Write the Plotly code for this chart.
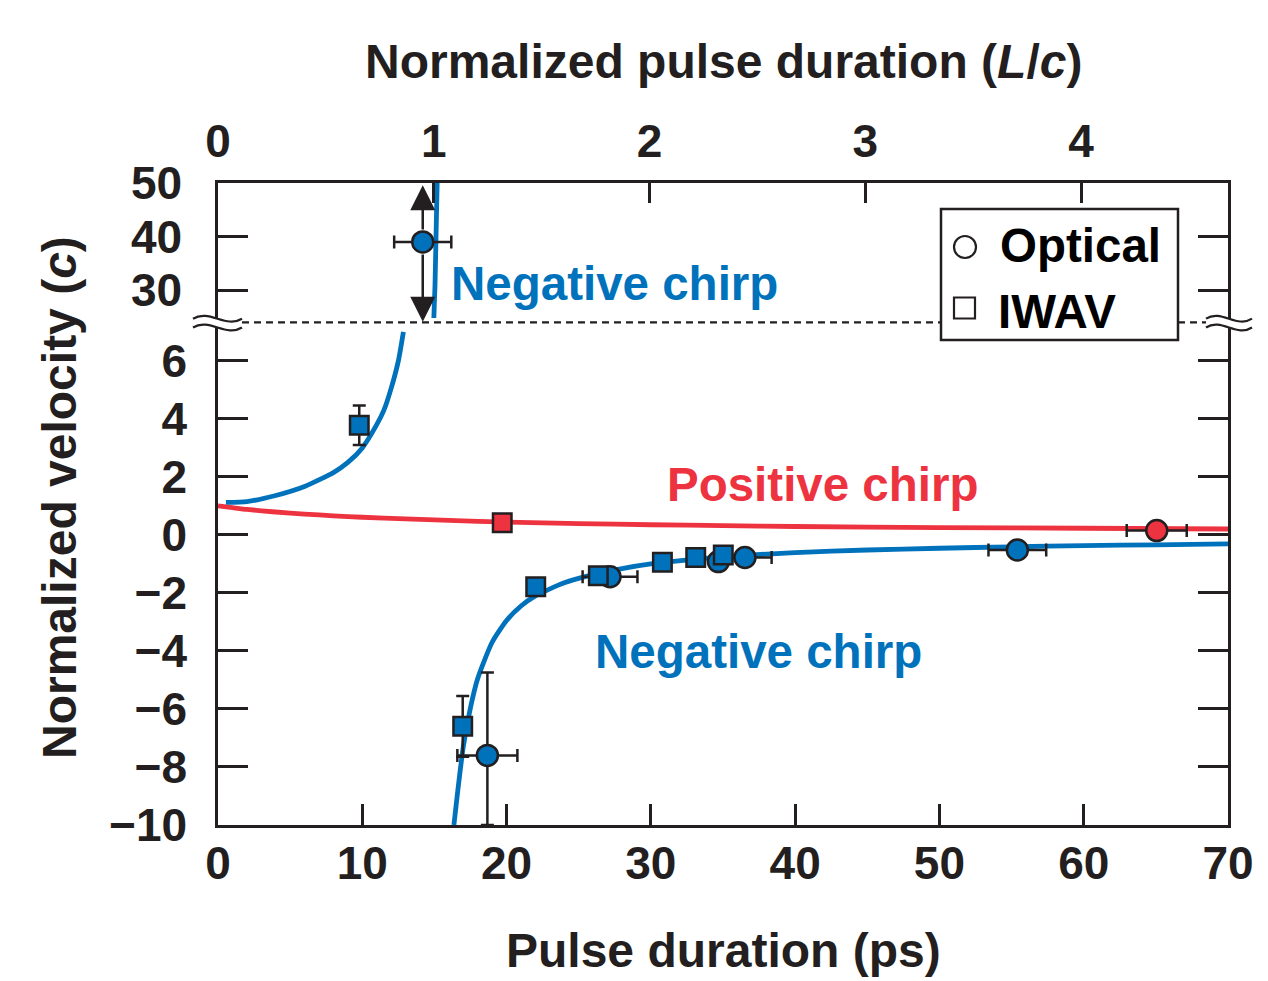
import plotly.graph_objects as go

# ---------------- data ----------------
L_OVER_C = 14.953  # ps per normalized unit (top axis scale)

x_ticks = [0, 10, 20, 30, 40, 50, 60, 70]
top_ticks = [0, 1, 2, 3, 4]
y_low_ticks = [-10, -8, -6, -4, -2, 0, 2, 4, 6]
y_high_ticks = [30, 40, 50]

# positive-chirp model curve (red)
red_curve_x = [0, 1, 2, 4, 6, 8, 10, 13, 16, 20, 25, 30, 35, 40, 50, 60, 70]
red_curve_y = [1.0, 0.94, 0.88, 0.79, 0.72, 0.66, 0.61, 0.55, 0.50, 0.44, 0.39,
               0.35, 0.32, 0.29, 0.255, 0.23, 0.205]

# negative-chirp model curve (blue), branch below the asymptote (lower panel)
blue_left_x = [0.55, 2, 4, 6, 8, 9, 10, 11, 11.5, 12, 12.5, 12.85]
blue_left_y = [1.12, 1.15, 1.36, 1.67, 2.15, 2.5, 3.0, 3.8, 4.3, 5.05, 6.0, 7.0]
# same branch in the upper (broken) panel
blue_up_x = [14.96, 15.04, 15.11, 15.19]
blue_up_y = [24.8, 31.0, 40.0, 50.0]
# branch beyond the asymptote
blue_right_x = [16.35, 16.6, 17.0, 17.5, 18.0, 19.0, 20, 21, 22, 24, 26, 28, 30,
                33, 36, 40, 45, 50, 55, 60, 65, 70]
blue_right_y = [-10.0, -8.9, -7.3, -5.95, -4.95, -3.7, -2.95, -2.45, -2.1, -1.65,
                -1.37, -1.16, -1.0, -0.84, -0.72, -0.61, -0.52, -0.46, -0.41,
                -0.37, -0.34, -0.31]

# Optical measurements (circles)
opt_neg_x = [18.67, 27.17, 34.68, 36.52, 55.40]
opt_neg_y = [-7.60, -1.44, -0.92, -0.78, -0.52]
opt_neg_xerr = [2.08, 1.90, 0, 1.85, 2.00]
opt_neg_yerr_plus = [2.86, 0, 0, 0, 0]
opt_neg_yerr_minus = [2.40, 0, 0, 0, 0]

opt_high_x = [14.19]
opt_high_y = [39.0]
opt_high_xerr = [1.98]
opt_high_arrow_top = 49.6
opt_high_arrow_bottom = 24.1

opt_pos_x = [65.06]
opt_pos_y = [0.15]
opt_pos_xerr = [2.08]

# IWAV measurements (squares)
iwav_neg_x = [9.79, 16.96, 22.02, 26.36, 30.80, 33.11, 35.02]
iwav_neg_y = [3.78, -6.60, -1.79, -1.41, -0.94, -0.78, -0.69]
iwav_neg_yerr = [0.68, 1.05, 0, 0, 0, 0, 0]

iwav_pos_x = [19.70]
iwav_pos_y = [0.42]

# ---------------- layout helpers ----------------
PAGE_OFFSET = 8          # default body margin of the html page
W, H = 1268 - PAGE_OFFSET, 981 - PAGE_OFFSET
PLOT_L, PLOT_T, PLOT_R, PLOT_B = 218, 183, 1228, 825   # plot box on screen
ML = PLOT_L - PAGE_OFFSET
MT = PLOT_T - PAGE_OFFSET
MR = W - (PLOT_R - PAGE_OFFSET)
MB = H - (PLOT_B - PAGE_OFFSET)
PW = PLOT_R - PLOT_L
PH = PLOT_B - PLOT_T


def px(xp):
    return (xp - PLOT_L) / PW


def py(yp):
    return (PLOT_B - yp) / PH


BREAK = py(322.3)
Y_LOW_RANGE = [-10, 7.33]
Y_HIGH_RANGE = [24.0, 50]

INK = '#231F20'
BLUE = '#0072BC'
RED = '#EE3340'
FONT = 'Liberation Sans'

tick_font = dict(family=FONT, size=46, color=INK, weight='bold')
title_font = dict(family=FONT, size=48, color=INK, weight='bold')
label_font = dict(family=FONT, size=47.5, weight='bold')

fig = go.Figure()

curve_line = dict(width=4.8, shape='spline', smoothing=0.6)
fig.add_trace(go.Scatter(x=red_curve_x, y=red_curve_y, mode='lines',
                         line=dict(color=RED, **curve_line), hoverinfo='skip'))
fig.add_trace(go.Scatter(x=blue_left_x, y=blue_left_y, mode='lines',
                         line=dict(color=BLUE, **curve_line), hoverinfo='skip'))
fig.add_trace(go.Scatter(x=blue_up_x, y=blue_up_y, mode='lines', yaxis='y2',
                         line=dict(color=BLUE, **curve_line), hoverinfo='skip'))
fig.add_trace(go.Scatter(x=blue_right_x, y=blue_right_y, mode='lines',
                         line=dict(color=BLUE, **curve_line), hoverinfo='skip'))

err_style = dict(color=INK, thickness=2.5, width=6.5)
circle_marker = lambda c: dict(symbol='circle', size=21, color=c, line=dict(color=INK, width=2.5))
square_marker = lambda c: dict(symbol='square', size=18.5, color=c, line=dict(color=INK, width=2.5))

fig.add_trace(go.Scatter(
    x=opt_neg_x, y=opt_neg_y, mode='markers', marker=circle_marker(BLUE),
    error_x=dict(type='data', array=opt_neg_xerr, **err_style),
    error_y=dict(type='data', symmetric=False, array=opt_neg_yerr_plus,
                 arrayminus=opt_neg_yerr_minus, **err_style)))
fig.add_trace(go.Scatter(
    x=opt_high_x, y=opt_high_y, mode='markers', yaxis='y2', marker=circle_marker(BLUE),
    error_x=dict(type='data', array=opt_high_xerr, **err_style)))
fig.add_trace(go.Scatter(
    x=opt_pos_x, y=opt_pos_y, mode='markers', marker=circle_marker(RED),
    error_x=dict(type='data', array=opt_pos_xerr, **err_style)))
fig.add_trace(go.Scatter(
    x=iwav_neg_x, y=iwav_neg_y, mode='markers', marker=square_marker(BLUE),
    error_y=dict(type='data', array=iwav_neg_yerr, **err_style)))
fig.add_trace(go.Scatter(
    x=iwav_pos_x, y=iwav_pos_y, mode='markers', marker=square_marker(RED)))

# invisible trace so the top (normalized) axis is instantiated
fig.add_trace(go.Scatter(x=[top_ticks[0]], y=[Y_HIGH_RANGE[1]], xaxis='x2', yaxis='y2',
                         mode='markers', marker=dict(opacity=0), hoverinfo='skip'))

axis_common = dict(showgrid=False, zeroline=False, showline=True, linewidth=2.5,
                   linecolor=INK, ticks='inside', tickwidth=2.5, tickcolor=INK,
                   tickfont=tick_font, fixedrange=True)

fig.update_layout(
    width=W, height=H, margin=dict(l=ML, r=MR, t=MT, b=MB, pad=0),
    paper_bgcolor='white', plot_bgcolor='white', showlegend=False,
    xaxis=dict(range=[0, 70], domain=[0, 1], anchor='y', tickvals=x_ticks,
               ticklen=21, ticklabelstandoff=-4, **axis_common),
    xaxis2=dict(range=[0, 70 / L_OVER_C], overlaying='x', side='top', anchor='y2',
                tickvals=top_ticks, ticklen=20, ticklabelstandoff=5, **axis_common),
    yaxis=dict(range=Y_LOW_RANGE, domain=[0, BREAK], anchor='x', tickvals=y_low_ticks,
               ticklen=30, mirror='ticks', ticklabelstandoff=19, **axis_common),
    yaxis2=dict(range=Y_HIGH_RANGE, domain=[BREAK, 1], anchor='x', tickvals=y_high_ticks,
                ticklen=30, mirror='ticks', ticklabelstandoff=24, **axis_common),
)

# ---- axis break: dashed line + wavy marks ----
shapes = []
shapes.append(dict(type='line', xref='paper', yref='paper', x0=px(242), x1=px(1206),
                   y0=BREAK, y1=BREAK, line=dict(color=INK, width=2.2, dash='7px,5px')))


def wave_pts(x0, x1, yc, amp=10):
    w = x1 - x0
    return [(x0, yc), (x0 + w / 3, yc - amp), (x0 + 2 * w / 3, yc + amp), (x1, yc)]


def ps(p):
    return f"{px(p[0]):.5f},{py(p[1]):.5f}"


for (xa, xb) in [(193, 242), (1206, 1252)]:
    up = wave_pts(xa, xb, 318.7)
    lo = wave_pts(xa, xb, 327.5)
    band = (f"M{ps(up[0])} C{ps(up[1])} {ps(up[2])} {ps(up[3])} L{ps(lo[3])} "
            f"C{ps(lo[2])} {ps(lo[1])} {ps(lo[0])} Z")
    shapes.append(dict(type='path', xref='paper', yref='paper', path=band,
                       fillcolor='white', line=dict(width=0)))
    for w_ in (up, lo):
        shapes.append(dict(type='path', xref='paper', yref='paper',
                           path=f"M{ps(w_[0])} C{ps(w_[1])} {ps(w_[2])} {ps(w_[3])}",
                           line=dict(color=INK, width=2.2)))

# ---- legend (drawn manually for large symbols) ----
shapes.append(dict(type='rect', xref='paper', yref='paper', x0=px(941), x1=px(1178),
                   y0=py(340), y1=py(209), fillcolor='white', line=dict(color=INK, width=2.5)))
shapes.append(dict(type='circle', xref='paper', yref='paper', x0=px(954), x1=px(976),
                   y0=py(258), y1=py(236), line=dict(color=INK, width=2.2)))
shapes.append(dict(type='rect', xref='paper', yref='paper', x0=px(954), x1=px(975),
                   y0=py(318.5), y1=py(297.5), line=dict(color=INK, width=2.2)))
fig.update_layout(shapes=shapes)

ann = []
ann.append(dict(text='Optical', xref='paper', yref='paper', x=px(998), y=py(245),
                xanchor='left', yanchor='middle', showarrow=False,
                font=dict(color='black', **label_font)))
ann.append(dict(text='IWAV', xref='paper', yref='paper', x=px(996), y=py(311),
                xanchor='left', yanchor='middle', showarrow=False,
                font=dict(color='black', **label_font)))

# curve labels
ann.append(dict(text='Negative chirp', xref='paper', yref='paper', x=px(449), y=py(283),
                xanchor='left', yanchor='middle', showarrow=False,
                font=dict(color=BLUE, **label_font)))
ann.append(dict(text='Positive chirp', xref='paper', yref='paper', x=px(665), y=py(484),
                xanchor='left', yanchor='middle', showarrow=False,
                font=dict(color=RED, **label_font)))
ann.append(dict(text='Negative chirp', xref='paper', yref='paper', x=px(593), y=py(651),
                xanchor='left', yanchor='middle', showarrow=False,
                font=dict(color=BLUE, **label_font)))

# axis titles
ann.append(dict(text='Normalized pulse duration (<i>L</i>/<i>c</i>)', xref='paper', yref='paper',
                x=0.5, y=py(61), xanchor='center', yanchor='middle', showarrow=False,
                font=title_font))
ann.append(dict(text='Pulse duration (ps)', xref='paper', yref='paper',
                x=0.5, y=py(950), xanchor='center', yanchor='middle', showarrow=False,
                font=title_font))
ann.append(dict(text='Normalized velocity (<i>c</i>)', xref='paper', yref='paper',
                x=px(59), y=py(498), xanchor='center', yanchor='middle', showarrow=False,
                textangle=-90, font=title_font))

# arrow "error bars" on the out-of-range optical point
for tip in (opt_high_arrow_top, opt_high_arrow_bottom):
    ann.append(dict(text='', x=opt_high_x[0], y=tip, xref='x', yref='y2',
                    ax=opt_high_x[0], ay=opt_high_y[0], axref='x', ayref='y2',
                    showarrow=True, arrowhead=2, arrowsize=2.0, arrowwidth=2.5,
                    arrowcolor=INK, startstandoff=11, standoff=0))

fig.update_layout(annotations=ann)

fig.write_html("out.html")
